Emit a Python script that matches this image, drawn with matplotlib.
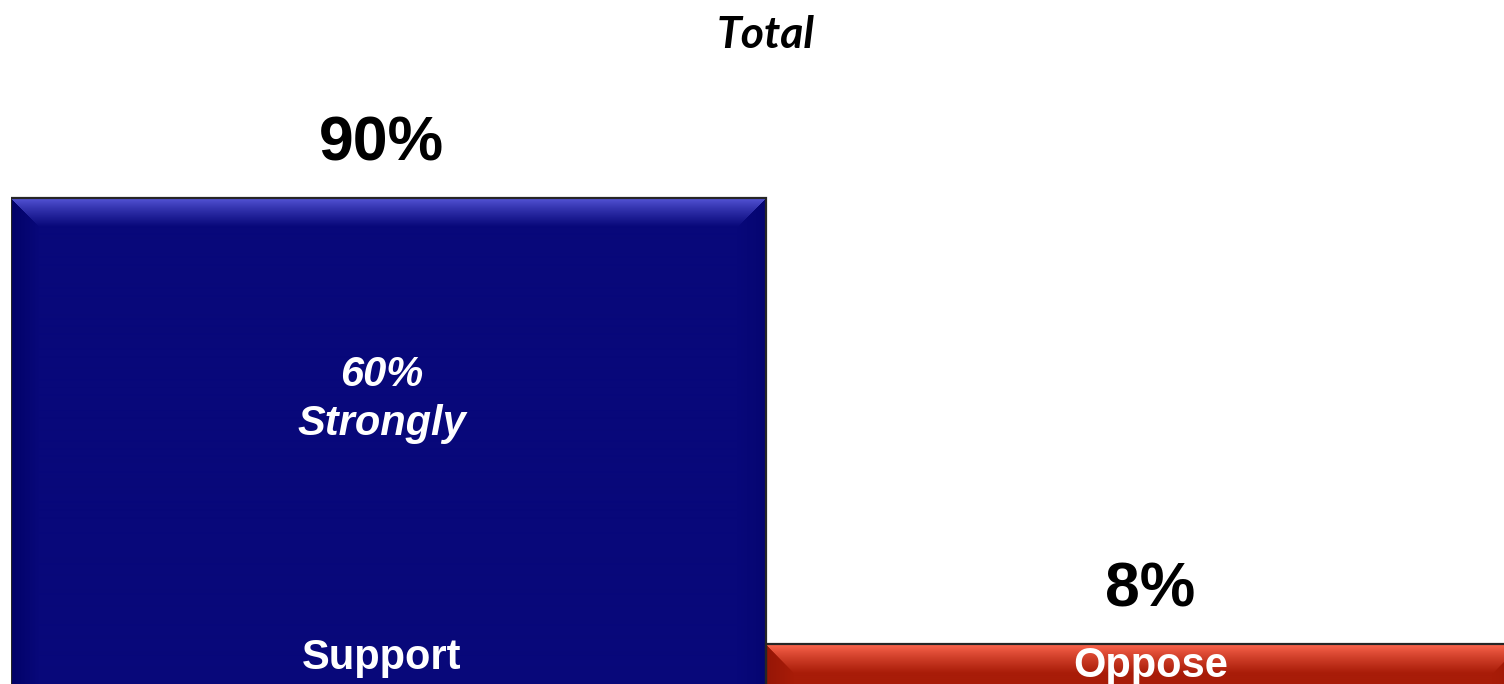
import numpy as np
import matplotlib
matplotlib.use("Agg")
import matplotlib.pyplot as plt

# survey result, total sample
categories = ["Support", "Oppose"]
values = [90, 8]
strongly = [60, None]
base_colors = [(8, 8, 122), (168, 28, 8)]
light_colors = [(86, 86, 216), (255, 104, 80)]
dark_colors = [(2, 2, 104), (150, 22, 6)]

W_PX, H_PX = 1504, 684
fig = plt.figure(figsize=(W_PX / 100, H_PX / 100), dpi=100)

# axes placed so the baseline sits just under the bottom edge
ax_left, ax_w = 11, 1510
ax_bottom, ax_h = -4, 544.4
ax = fig.add_axes([ax_left / W_PX, ax_bottom / H_PX, ax_w / W_PX, ax_h / H_PX])
ax.axis("off")

px_x = ax_w / 2.0      # pixels per x unit
px_y = ax_h / 100.0    # pixels per y unit


def bevel_image(w, h, base, light, dark, b=28):
    base = np.array(base) / 255.0
    light = np.array(light) / 255.0
    dark = np.array(dark) / 255.0
    rows, cols = np.mgrid[0:h, 0:w]
    top = rows.astype(float)
    left = cols.astype(float)
    right = (w - 1 - cols).astype(float)
    img = np.tile(base, (h, w, 1))
    # top band: light fading down to base
    m = (top <= left) & (top <= right) & (top < b)
    f = (top[m] / b)[:, None] ** 0.8
    img[m] = light * (1 - f) + base * f
    # side bands: slightly darker
    m = (left < top) & (left <= right) & (left < b)
    f = (left[m] / b)[:, None]
    img[m] = dark * (1 - f) + base * f
    m = (right < top) & (right < left) & (right < b)
    f = (right[m] / b)[:, None]
    img[m] = dark * (1 - f) * 0.5 + base * (0.5 + 0.5 * f)
    return img


x = np.arange(len(categories))
bars = ax.bar(x, values, width=1.0, color="none", edgecolor="#262626",
              linewidth=1.6, zorder=3)

for i, bar in enumerate(bars):
    x0, w = bar.get_x(), bar.get_width()
    h = bar.get_height()
    img = bevel_image(int(w * px_x), max(int(h * px_y), 2),
                      base_colors[i], light_colors[i], dark_colors[i])
    ax.imshow(img, extent=(x0, x0 + w, 0, h), aspect="auto",
              interpolation="bilinear", zorder=2)

ax.set_xlim(-0.5, 1.5)
ax.set_ylim(0, 100)

# small horizontal nudges of the labels, in pixels
dx = [-7, 7]

# value labels above the bars
for i, v in enumerate(values):
    ax.annotate(f"{v}%", (x[i], v), xytext=(dx[i] * 0.72, 27), textcoords="offset points",
                ha="center", va="baseline", fontsize=45, fontweight="bold",
                family="Liberation Sans", color="black")

# category labels inside the bars
label_y = [5.5, 4.0]
for i, cat in enumerate(categories):
    ax.annotate(cat, (x[i], label_y[i]), xytext=(dx[i] * 0.72, 0), textcoords="offset points",
                ha="center", va="center", fontsize=30, fontweight="bold",
                family="Liberation Sans", color="white", zorder=5)

for i, s in enumerate(strongly):
    if s is not None:
        ax.annotate(f"{s}%\nStrongly", (x[i], 53.0), xytext=(dx[i] * 0.72, 0),
                    textcoords="offset points", ha="center", va="center",
                    fontsize=30, fontweight="bold", fontstyle="italic",
                    family="Liberation Sans", color="white", linespacing=1.3, zorder=5)

fig.text(766 / W_PX, 1 - 35 / H_PX, "Total", ha="center", va="center",
         fontsize=32, fontweight="bold", fontstyle="italic", family="Lato")

fig.savefig("out.png", dpi=100, facecolor="white")
